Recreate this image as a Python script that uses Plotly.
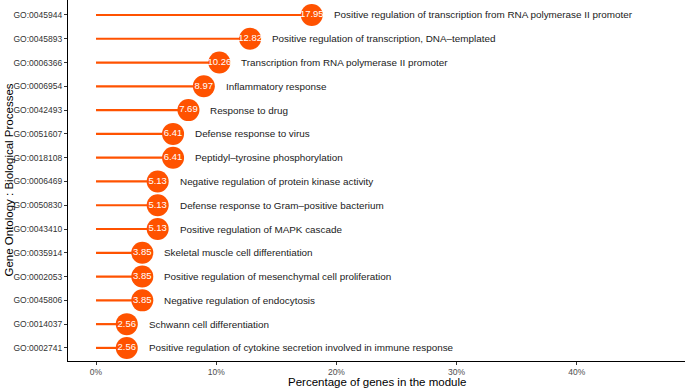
import plotly.graph_objects as go

go_ids = ["GO:0045944", "GO:0045893", "GO:0006366", "GO:0006954", "GO:0042493",
          "GO:0051607", "GO:0018108", "GO:0006469", "GO:0050830", "GO:0043410",
          "GO:0035914", "GO:0002053", "GO:0045806", "GO:0014037", "GO:0002741"]
terms = ["Positive regulation of transcription from RNA polymerase II promoter",
         "Positive regulation of transcription, DNA\u2013templated",
         "Transcription from RNA polymerase II promoter",
         "Inflammatory response",
         "Response to drug",
         "Defense response to virus",
         "Peptidyl\u2013tyrosine phosphorylation",
         "Negative regulation of protein kinase activity",
         "Defense response to Gram\u2013positive bacterium",
         "Positive regulation of MAPK cascade",
         "Skeletal muscle cell differentiation",
         "Positive regulation of mesenchymal cell proliferation",
         "Negative regulation of endocytosis",
         "Schwann cell differentiation",
         "Positive regulation of cytokine secretion involved in immune response"]
percent = [17.95, 12.82, 10.26, 8.97, 7.69, 6.41, 6.41, 5.13, 5.13, 5.13,
           3.85, 3.85, 3.85, 2.56, 2.56]
x_ticks = [0, 10, 20, 30, 40]
x_tick_labels = ["0%", "10%", "20%", "30%", "40%"]

COL = "#FF5200"
FONT = "Liberation Sans, Arial, sans-serif"

fig = go.Figure()
# stems
for g, v in zip(go_ids, percent):
    fig.add_trace(go.Scatter(x=[0, v], y=[g, g], mode="lines",
                             line=dict(color=COL, width=2.2),
                             showlegend=False, hoverinfo="skip"))
# circles with values
fig.add_trace(go.Scatter(x=percent, y=go_ids, mode="markers+text",
                         marker=dict(color=COL, size=22, line=dict(width=0)),
                         text=[f"{v:.2f}" for v in percent],
                         textposition="middle center",
                         textfont=dict(color="white", size=9.5, family=FONT),
                         showlegend=False))
# descriptions
for g, v, t in zip(go_ids, percent, terms):
    fig.add_annotation(x=v, y=g, text=t, showarrow=False, xanchor="left",
                       xshift=20, font=dict(size=9.9, color="#1a1a1a", family=FONT))

# axis titles
fig.add_annotation(x=0.5, y=-0.0, xref="paper", yref="paper", yshift=-21,
                   text="Percentage of genes in the module", showarrow=False,
                   xanchor="center", yanchor="middle",
                   font=dict(size=11.5, color="black", family=FONT))
fig.add_annotation(x=0, y=0.5, xref="paper", yref="paper", xshift=-60,
                   text="Gene Ontology : Biological Processes", showarrow=False,
                   textangle=-90, xanchor="center", yanchor="middle",
                   font=dict(size=11.5, color="black", family=FONT))

fig.update_layout(
    width=685, height=389,
    margin=dict(l=68, r=0, t=0, b=28, autoexpand=False),
    plot_bgcolor="white", paper_bgcolor="white",
    font=dict(family=FONT),
    xaxis=dict(range=[-2.33, 49.0], tickvals=x_ticks, ticktext=x_tick_labels,
               automargin=False,
               showgrid=False, zeroline=False, showline=True, linecolor="black",
               linewidth=1.2, ticks="outside", ticklen=3, tickcolor="#333333",
               tickfont=dict(size=8.5, color="#4d4d4d")),
    yaxis=dict(categoryorder="array", categoryarray=go_ids[::-1],
               automargin=False,
               range=[-0.55, 14.63], showgrid=False, zeroline=False,
               showline=True, linecolor="black", linewidth=1.2,
               ticks="outside", ticklen=3, tickcolor="#333333",
               tickfont=dict(size=8.5, color="#333333")),
)

fig.write_html("out.html", config={"displayModeBar": False},
               post_script="document.body.style.margin='0';document.body.style.overflow='hidden';")
